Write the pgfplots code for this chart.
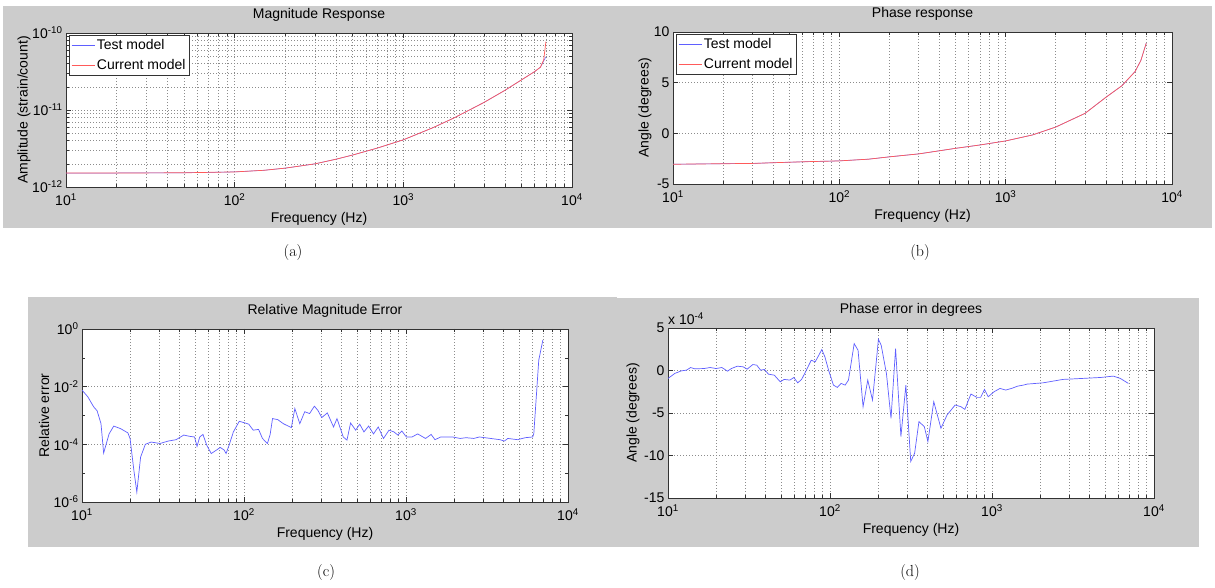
\documentclass[border=0pt]{standalone}
\usepackage{pgfplots}
\pgfplotsset{compat=1.18}
\usepackage{fontspec}
\newfontfamily\pf{Liberation Sans}
\newcommand\pff{\pf\fontsize{14}{16}\selectfont}
\newcommand\ten[1]{10\textsuperscript{#1}}
\definecolor{figgray}{RGB}{204,204,204}
\definecolor{mblue}{RGB}{95,95,255}
\definecolor{mred}{RGB}{255,90,90}

\pgfplotsset{
  legend image code/.code={\draw[#1] (0pt,0pt) -- (23pt,0pt);},
}
\pgfplotsset{
  matax/.style={
    scale only axis,
    axis background/.style={fill=white},
    axis line style={black!80,line width=0.6pt},
    every tick/.style={black!80,line width=0.6pt},
    tick align=inside,
    major tick length=5pt, minor tick length=3pt,
    xmajorgrids, xminorgrids, ymajorgrids,
    major grid style={black!45,line width=0.6pt,dash pattern=on 1pt off 2pt},
    minor grid style={black!45,line width=0.6pt,dash pattern=on 1pt off 2pt},
    tick label style={font=\pff},
    x tick label style={yshift=-3pt},
    label style={font=\pff},
    title style={font=\pff,yshift=2pt},
    xmin=10, xmax=10000,
    xtick={10,100,1000,10000},
    xticklabels={\ten{1},\ten{2},\ten{3},\ten{4}},
    minor xtick={20,30,40,50,60,70,80,90,200,300,400,500,600,700,800,900,2000,3000,4000,5000,6000,7000,8000,9000},
    xlabel={Frequency (Hz)},
    xlabel style={at={(axis description cs:0.5,0)},anchor=center,yshift=-32pt},
    legend style={at={(axis description cs:0,1)},anchor=north west,xshift=3pt,yshift=-2pt,
      draw=black!80,fill=white,font=\pff,row sep=5pt,inner xsep=2pt,inner ysep=2pt},
    legend cell align=left,
  },
}

\begin{document}
\begin{tikzpicture}
\path[use as bounding box] (0pt,0pt) rectangle (1215pt,588pt);
\fill[white] (0pt,0pt) rectangle (1215pt,588pt);
\fill[figgray] (3pt,360pt) rectangle (1212pt,582pt);
\fill[figgray] (28pt,41pt) rectangle (617pt,291pt);
\fill[figgray] (617pt,41pt) rectangle (1199pt,290pt);

% (a) magnitude
\begin{semilogxaxis}[matax, at={(66pt,401pt)}, anchor=south west, width=506pt, height=154pt,
  title={Magnitude Response},
  ymode=log, ymin=1e-12, ymax=1e-10,
  ytick={1e-12,1e-11,1e-10},
  yticklabels={\ten{-12},\ten{-11},\ten{-10}},
  minor ytick={2e-12,3e-12,4e-12,5e-12,6e-12,7e-12,8e-12,9e-12,2e-11,3e-11,4e-11,5e-11,6e-11,7e-11,8e-11,9e-11},
  yminorgrids,
  ylabel={Amplitude (strain/count)},
  ylabel style={at={(axis description cs:-0.083,0.5)},anchor=center},
]
\addplot[mblue,line width=0.5pt] coordinates {
  (10,1.52e-12) (20,1.52e-12) (50,1.53e-12) (100,1.57e-12) (150,1.65e-12)
  (200,1.76e-12) (300,2.0e-12) (400,2.3e-12) (500,2.6e-12) (700,3.2e-12)
  (1000,4.1e-12) (1500,5.9e-12) (2000,7.9e-12) (3000,1.25e-11) (4000,1.8e-11)
  (5000,2.45e-11) (6000,3.15e-11) (6500,3.6e-11) (7000,4.9e-11)
};
\addlegendentry{Test model}
\addplot[mred,line width=0.7pt] coordinates {
  (10,1.52e-12) (20,1.52e-12) (50,1.53e-12) (100,1.57e-12) (150,1.65e-12)
  (200,1.76e-12) (300,2.0e-12) (400,2.3e-12) (500,2.6e-12) (700,3.2e-12)
  (1000,4.1e-12) (1500,5.9e-12) (2000,7.9e-12) (3000,1.25e-11) (4000,1.8e-11)
  (5000,2.45e-11) (6000,3.15e-11) (6500,3.6e-11) (6800,4.5e-11) (7000,7.7e-11)
};
\addlegendentry{Current model}
\end{semilogxaxis}

% (b) phase
\begin{semilogxaxis}[matax, at={(673pt,404pt)}, anchor=south west, width=499pt, height=152pt,
  title={Phase response},
  ymin=-5, ymax=10,
  ytick={-5,0,5,10}, yticklabels={-5,0,5,10},
  ylabel={Angle (degrees)},
  ylabel style={at={(axis description cs:-0.056,0.5)},anchor=center},
]
\addplot[mblue,line width=0.5pt] coordinates {
  (10,-3.05) (20,-3.0) (30,-2.97) (50,-2.85) (70,-2.78) (100,-2.72) (150,-2.55)
  (200,-2.32) (300,-2.03) (500,-1.48) (700,-1.15) (1000,-0.75) (1450,-0.16)
  (2000,0.62) (3000,1.97) (4000,3.55) (5000,4.7) (6000,6.1) (6500,7.2) (7000,8.9)
};
\addlegendentry{Test model}
\addplot[mred,line width=0.7pt] coordinates {
  (10,-3.05) (20,-3.0) (30,-2.97) (50,-2.85) (70,-2.78) (100,-2.72) (150,-2.55)
  (200,-2.32) (300,-2.03) (500,-1.48) (700,-1.15) (1000,-0.75) (1450,-0.16)
  (2000,0.62) (3000,1.97) (4000,3.55) (5000,4.7) (6000,6.1) (6500,7.2) (7000,8.9)
};
\addlegendentry{Current model}
\end{semilogxaxis}

% (c) relative magnitude error
\begin{loglogaxis}[matax, at={(82pt,86pt)}, anchor=south west, width=486pt, height=173pt,
  title={Relative Magnitude Error},
  ymin=1e-6, ymax=1,
  ytick={1e-6,1e-4,1e-2,1},
  yticklabels={\ten{-6},\ten{-4},\ten{-2},\ten{0}},
  minor ytick={1e-5,1e-3,1e-1},
  ylabel={Relative error},
  ylabel style={at={(axis description cs:-0.078,0.5)},anchor=center},
]
\addplot[mblue,line width=0.7pt] coordinates {
  (10,7.6e-3) (10.85,4.5e-3) (11.8,2.0e-3) (12.4,1.45e-3) (13.1,5.2e-4) (13.6,5.0e-5)
  (14.7,2.3e-4) (15.7,4.3e-4) (17.3,3.5e-4) (19.2,2.5e-4) (19.8,1.6e-4) (20.9,1.26e-5)
  (21.8,2.2e-6) (23.0,3.6e-5) (24.6,1.0e-4) (26.7,1.2e-4) (30.3,1.07e-4) (34.1,1.3e-4)
  (38.1,1.45e-4) (42.5,2.1e-4) (46.0,1.9e-4) (49.5,1.8e-4) (51.3,8.5e-5) (53.3,1.8e-4)
  (55.8,2.2e-4) (58.9,9.3e-5) (62.8,4.8e-5) (67.5,6.3e-5) (71.4,7.8e-5) (75.5,6.3e-5)
  (77.5,4.8e-5) (80.9,9.3e-5) (86.0,2.7e-4) (93.5,6.3e-4) (101.7,5.5e-4) (107,5.0e-4)
  (114,3.1e-4) (123,3.3e-4) (130,1.6e-4) (139.5,1.07e-4) (145,2.2e-4) (150,7.8e-4)
  (161.5,7.2e-4) (175,5.2e-4) (196,3.8e-4) (206,1.74e-3) (221,5.2e-4) (237,1.35e-3)
  (254,1.17e-3) (272,2.1e-3) (286,1.5e-3) (302,8.5e-4) (327,1.23e-3) (357,4.0e-4)
  (375,7.8e-4) (410,1.8e-4) (432,1.4e-4) (455,5.5e-4) (489,3.1e-4) (518,5.0e-4)
  (550,2.7e-4) (588,4.3e-4) (630,2.3e-4) (674,4.0e-4) (726,1.6e-4) (786,3.1e-4)
  (842,2.7e-4) (890,2.1e-4) (943,2.9e-4) (1005,1.8e-4) (1090,1.8e-4) (1180,2.3e-4)
  (1320,1.6e-4) (1430,2.2e-4) (1510,1.45e-4) (1640,1.8e-4) (1940,1.8e-4) (2160,1.6e-4)
  (2350,1.7e-4) (2620,1.6e-4) (2840,1.8e-4) (3330,1.6e-4) (3800,1.45e-4) (4050,1.3e-4)
  (4250,1.6e-4) (4880,1.45e-4) (5450,1.7e-4) (6050,1.8e-4) (6150,2.3e-4) (6600,8.3e-2)
  (7000,0.42)
};
\end{loglogaxis}

% (d) phase error
\begin{semilogxaxis}[matax, name=pd, at={(668pt,90pt)}, anchor=south west, width=486pt, height=170pt,
  title={Phase error in degrees},
  ymin=-15, ymax=5,
  ytick={-15,-10,-5,0,5}, yticklabels={-15,-10,-5,0,5},
  ylabel={Angle (degrees)},
  ylabel style={at={(axis description cs:-0.072,0.5)},anchor=center},
]
\addplot[mblue,line width=0.7pt] coordinates {
  (10,-0.94) (11.0,-0.35) (12.1,-0.04) (13.0,0.04) (13.8,0.35) (14.6,0.2) (16.7,0.23)
  (18.2,0.35) (19.8,0.23) (21.5,0.35) (23.3,-0.08) (24.6,0.23) (26.8,0.51) (29.1,0.43)
  (30.8,0.16) (33.4,0.70) (35.3,0.63) (37.3,0.04) (39.4,0.12) (41.7,-0.43) (45.3,-0.55)
  (49.3,-1.33) (52.1,-1.05) (56.6,-1.13) (59.8,-0.82) (63.2,-1.45) (66.8,-1.05)
  (70.6,-0.16) (76.6,1.21) (81,1.02) (84.2,1.60) (89,2.46) (93,1.60) (98,0.04)
  (105,-1.72) (111,-1.99) (117,-1.52) (124,-1.72) (130,-1.13) (141,3.16) (149,2.38)
  (160,-4.26) (171,-1.13) (183,-3.48) (193,1.02) (199,3.67) (207,2.97) (223,-0.35)
  (238,-5.63) (254,2.58) (274,-7.77) (294,-1.72) (315,-10.7) (333,-9.73) (354,-6.02)
  (382,-6.60) (402,-8.36) (437,-3.67) (484,-6.80) (528,-5.23) (592,-4.06) (643,-4.26)
  (680,-4.57) (741,-2.77) (806,-3.16) (851,-3.16) (899,-2.23) (947,-3.09) (1030,-2.5)
  (1120,-2.11) (1215,-2.30) (1320,-2.11) (1440,-1.84) (1560,-1.72) (1650,-1.60)
  (2070,-1.45) (2740,-1.05) (3550,-0.94) (4690,-0.82) (5600,-0.66) (6200,-0.94)
  (6950,-1.52)
};
\end{semilogxaxis}
\node[anchor=south west,font=\pff,inner sep=0pt] at ([yshift=3pt]pd.north west) {x \ten{-4}};

% captions
\node[font=\fontsize{16}{18}\selectfont] at (293pt,335pt) {(a)};
\node[font=\fontsize{16}{18}\selectfont] at (920pt,335pt) {(b)};
\node[font=\fontsize{16}{18}\selectfont] at (326pt,15pt) {(c)};
\node[font=\fontsize{16}{18}\selectfont] at (910pt,15pt) {(d)};
\end{tikzpicture}
\end{document}
